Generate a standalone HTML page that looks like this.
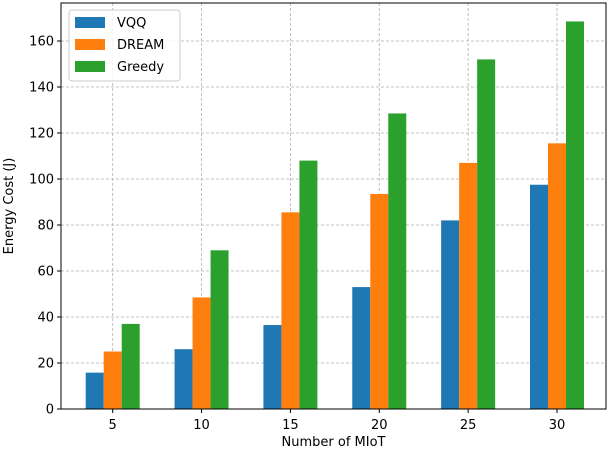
<!DOCTYPE html>
<html><head><meta charset="utf-8"><style>body{margin:0;background:#fff}svg{font-family:"DejaVu Sans","Liberation Sans",sans-serif}</style></head>
<body>
<svg id="c" width="608" height="454"></svg>
<script>
const categories=[5,10,15,20,25,30];
const vqq=[15.8,26,36.5,53,82,97.5];
const dream=[25,48.5,85.5,93.5,107,115.5];
const greedy=[37,69,108,128.5,152,168.5];
const yTicks=[0,20,40,60,80,100,120,140,160];
const seriesNames=["VQQ","DREAM","Greedy"];
const colors=["#1f77b4","#ff7f0e","#2ca02c"];
const L=61,R=606,T=3,B=409;
const xs=v=>112.7+(v-5)*(557-112.7)/25;
const ys=v=>B-v*2.3;
const svg=document.getElementById('c');
const NS="http://www.w3.org/2000/svg";
function mk(t,a,p){const e=document.createElementNS(NS,t);for(const k in a)e.setAttribute(k,a[k]);(p||svg).appendChild(e);return e;}
yTicks.forEach(v=>{const y=ys(v);
 const g=mk('line',{x1:L,x2:R,y1:y,y2:y,stroke:'#b0b0b0','stroke-dasharray':'3,2','stroke-width':0.8});
 
 
 mk('line',{x1:L-4,x2:L,y1:y,y2:y,stroke:'#000'});
 const t=mk('text',{x:L-7,y:y+4.5,'text-anchor':'end','font-size':13});t.textContent=v;
 
 
});
categories.forEach(c=>{const x=xs(c);
 const g=mk('line',{x1:x,x2:x,y1:T,y2:B,stroke:'#b0b0b0','stroke-dasharray':'3,2','stroke-width':0.8});
 
 
});
const series=[vqq,dream,greedy];const bw=18;
series.forEach((s,i)=>s.forEach((v,j)=>{const x=xs(categories[j])+(i-1.5)*bw;
 const r=mk('rect',{x:x,y:ys(v),width:bw,height:ys(0)-ys(v),fill:colors[i]});
 
 
}));
categories.forEach(c=>{const x=xs(c);
 mk('line',{x1:x,x2:x,y1:B,y2:B+4,stroke:'#000'});
 const t=mk('text',{x:x,y:B+20,'text-anchor':'middle','font-size':13});t.textContent=c;
 
 
});
mk('rect',{x:L,y:T,width:R-L,height:B-T,fill:'none',stroke:'#000','stroke-width':1});
const xt=mk('text',{x:(L+R)/2,y:446,'text-anchor':'middle','font-size':13});xt.textContent='Number of MIoT';


const yt=mk('text',{x:0,y:0,'text-anchor':'middle','font-size':13,transform:'translate(13,206) rotate(-90)'});yt.textContent='Energy Cost (J)';


const lg=mk('g',{});


mk('rect',{x:69,y:10,width:111,height:71,rx:3,fill:'#fff','fill-opacity':0.8,stroke:'#ccc'},lg);
seriesNames.forEach((n,i)=>{const y=22+i*22;
 mk('rect',{x:75,y:y-5,width:30,height:11,fill:colors[i]},lg);
 const t=mk('text',{x:117,y:y+5,'font-size':13},lg);t.textContent=n;
 
 
});
</script>
</body></html>
